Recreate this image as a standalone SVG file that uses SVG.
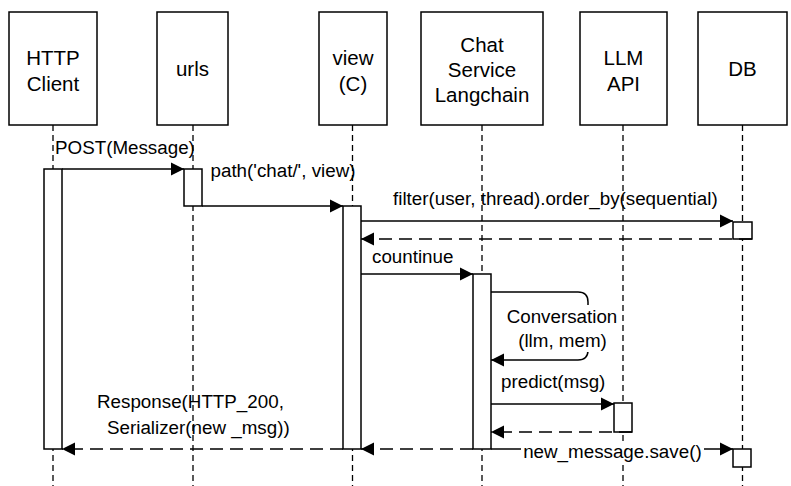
<svg xmlns="http://www.w3.org/2000/svg" width="791" height="486" viewBox="0 0 791 486">
<style>
.box{fill:#fff;stroke:#000;stroke-width:1.5}
.life{stroke:#000;stroke-width:1.3;stroke-dasharray:6 4;fill:none}
.msg{stroke:#000;stroke-width:1.5;fill:none}
.ret{stroke-dasharray:13 7}
.t{font-family:"Liberation Sans",Arial,Helvetica,sans-serif;font-size:18.8px;fill:#000}
.h{font-size:20.5px;text-anchor:middle}
.m{text-anchor:middle}
.bg{fill:#fff;stroke:none}
</style>
<defs>
<marker id="arr" markerUnits="userSpaceOnUse" markerWidth="14" markerHeight="14" refX="13" refY="6.5" orient="auto" overflow="visible">
<path d="M0,0 L13,6.5 L0,13 z" fill="#000" stroke="none"/>
</marker>
</defs>
<rect width="791" height="486" fill="#fff"/>

<g id="lifelines">
<line class="life" x1="53" y1="125" x2="53" y2="486"/>
<line class="life" x1="193" y1="125" x2="193" y2="486"/>
<line class="life" x1="352.5" y1="125" x2="352.5" y2="486"/>
<line class="life" x1="482" y1="125" x2="482" y2="486"/>
<line class="life" x1="623" y1="125" x2="623" y2="486"/>
<line class="life" x1="742.5" y1="125" x2="742.5" y2="486"/>
</g>

<g id="http-client">
<rect class="box" x="9" y="12" width="88" height="113"/>
<text class="t h" x="53" y="65">HTTP</text>
<text class="t h" x="53" y="90.7">Client</text>
<rect class="box" x="44" y="169" width="18" height="280"/>
</g>

<g id="urls">
<rect class="box" x="157" y="12" width="71" height="113"/>
<text class="t h" x="192.5" y="76">urls</text>
<rect class="box" x="184" y="169" width="18" height="37"/>
</g>

<g id="view">
<rect class="box" x="319" y="12" width="68" height="113"/>
<text class="t h" x="353" y="65">view</text>
<text class="t h" x="353" y="90.7">(C)</text>
<rect class="box" x="343" y="206" width="18" height="243"/>
</g>

<g id="chat-service">
<rect class="box" x="421" y="12" width="122" height="113"/>
<text class="t h" x="482" y="52">Chat</text>
<text class="t h" x="482" y="77.3">Service</text>
<text class="t h" x="482" y="102">Langchain</text>
<rect class="box" x="473" y="274" width="18" height="175"/>
</g>

<g id="llm-api">
<rect class="box" x="580" y="12" width="87" height="113"/>
<text class="t h" x="623.5" y="65">LLM</text>
<text class="t h" x="623.5" y="90.7">API</text>
<rect class="box" x="614" y="403" width="18" height="29"/>
</g>

<g id="db">
<rect class="box" x="698" y="12" width="89" height="113"/>
<text class="t h" x="742.5" y="76">DB</text>
<rect class="box" x="733" y="222" width="19" height="17"/>
<rect class="box" x="733" y="449" width="18" height="18"/>
</g>

<g id="connectors">
<line class="msg" x1="62" y1="169" x2="184" y2="169" marker-end="url(#arr)"/>
<text class="t" x="55" y="154">POST(Message)</text>

<line class="msg" x1="202" y1="206" x2="343" y2="206" marker-end="url(#arr)"/>
<text class="t" x="210.5" y="176.5">path('chat/', view)</text>

<line class="msg" x1="361" y1="221" x2="733" y2="221" marker-end="url(#arr)"/>
<text class="t" x="393" y="205">filter(user, thread).order_by(sequential)</text>

<line class="msg ret" x1="752" y1="239" x2="361" y2="239" marker-end="url(#arr)"/>

<line class="msg" x1="361" y1="274" x2="473" y2="274" marker-end="url(#arr)"/>
<text class="t" x="372" y="263">countinue</text>

<path class="msg" d="M491,292 H578 Q588,292 588,302 V350 Q588,360 578,360 H491" marker-end="url(#arr)"/>
<rect class="bg" x="505" y="305" width="113" height="47"/>
<text class="t m" x="562" y="323">Conversation</text>
<text class="t m" x="562.5" y="347">(llm, mem)</text>

<line class="msg" x1="491" y1="404" x2="614" y2="404" marker-end="url(#arr)"/>
<text class="t" x="501" y="388">predict(msg)</text>

<line class="msg ret" x1="632" y1="432" x2="491" y2="432" marker-end="url(#arr)"/>

<line class="msg ret" x1="473" y1="449" x2="361" y2="449" marker-end="url(#arr)"/>

<line class="msg ret" x1="343" y1="449" x2="62" y2="449" marker-end="url(#arr)"/>
<text class="t" x="97" y="408">Response(HTTP_200,</text>
<text class="t" x="107" y="434">Serializer(new _msg))</text>

<line class="msg" x1="491" y1="449" x2="733" y2="449" marker-end="url(#arr)"/>
<rect class="bg" x="521" y="441" width="183" height="22"/>
<text class="t m" x="612.4" y="458">new_message.save()</text>
</g>
</svg>
